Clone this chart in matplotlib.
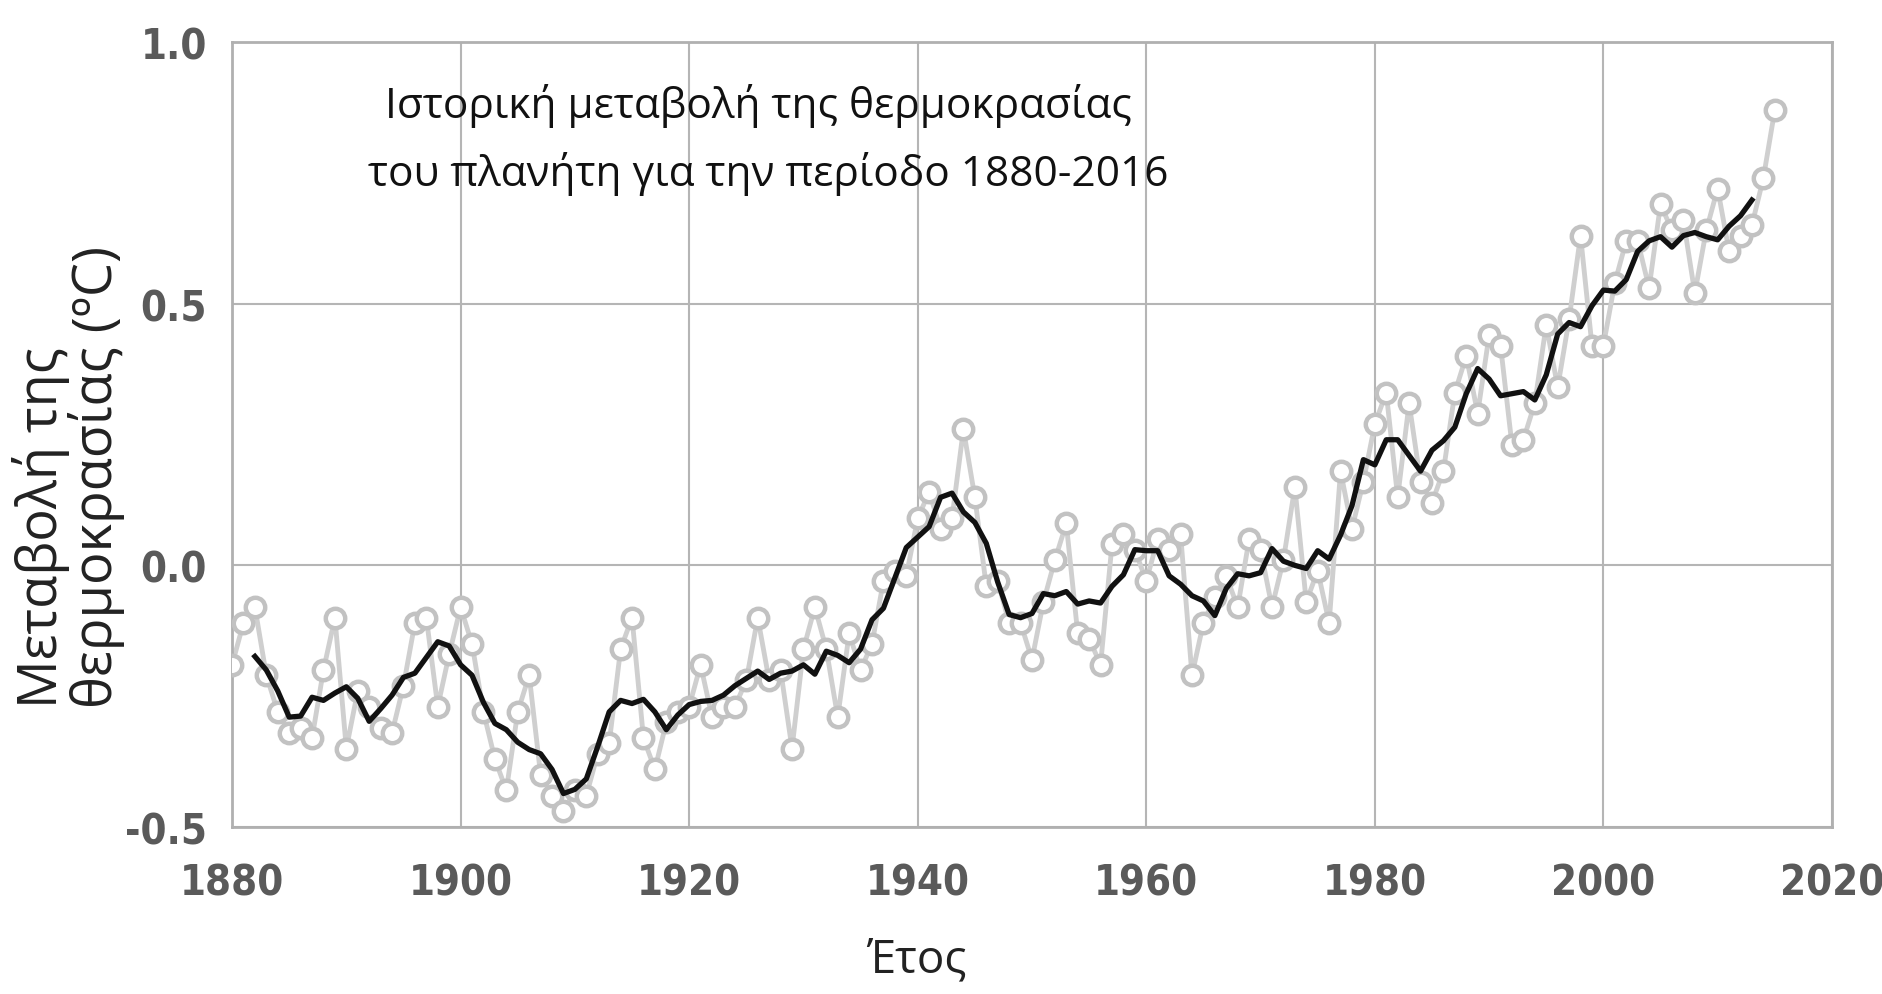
import numpy as np
import matplotlib
matplotlib.use("Agg")
import matplotlib.pyplot as plt
from matplotlib import font_manager

# annual temperature anomaly (ºC)
years = list(range(1880, 2016))
anomaly = [
    -0.19, -0.11, -0.08, -0.21, -0.28, -0.32, -0.31, -0.33, -0.20, -0.10,  # 1880s
    -0.35, -0.24, -0.27, -0.31, -0.32, -0.23, -0.11, -0.10, -0.27, -0.17,  # 1890s
    -0.08, -0.15, -0.28, -0.37, -0.43, -0.28, -0.21, -0.40, -0.44, -0.47,  # 1900s
    -0.43, -0.44, -0.36, -0.34, -0.16, -0.10, -0.33, -0.39, -0.30, -0.28,  # 1910s
    -0.27, -0.19, -0.29, -0.27, -0.27, -0.22, -0.10, -0.22, -0.20, -0.35,  # 1920s
    -0.16, -0.08, -0.16, -0.29, -0.13, -0.20, -0.15, -0.03, -0.01, -0.02,  # 1930s
    0.09, 0.14, 0.07, 0.09, 0.26, 0.13, -0.04, -0.03, -0.11, -0.11,        # 1940s
    -0.18, -0.07, 0.01, 0.08, -0.13, -0.14, -0.19, 0.04, 0.06, 0.03,       # 1950s
    -0.03, 0.05, 0.03, 0.06, -0.21, -0.11, -0.06, -0.02, -0.08, 0.05,      # 1960s
    0.03, -0.08, 0.01, 0.15, -0.07, -0.01, -0.11, 0.18, 0.07, 0.16,        # 1970s
    0.27, 0.33, 0.13, 0.31, 0.16, 0.12, 0.18, 0.33, 0.40, 0.29,           # 1980s
    0.44, 0.42, 0.23, 0.24, 0.31, 0.46, 0.34, 0.47, 0.63, 0.42,           # 1990s
    0.42, 0.54, 0.62, 0.62, 0.53, 0.69, 0.64, 0.66, 0.52, 0.64,           # 2000s
    0.72, 0.60, 0.63, 0.65, 0.74, 0.87,                                   # 2010s
]

xticks = [1880, 1900, 1920, 1940, 1960, 1980, 2000, 2020]
yticks = [-0.5, 0.0, 0.5, 1.0]

title1 = "Ιστορική μεταβολή της θερμοκρασίας"
title2 = "του πλανήτη για την περίοδο 1880-2016"
ylab = "Μεταβολή της\nθερμοκρασίας (ºC)"
xlab = "Έτος"

# 5 year running mean (centred)
yrs = np.array(years)
an = np.array(anomaly)
smooth = np.convolve(an, np.ones(5) / 5, mode="valid")
smooth_yrs = yrs[2:-2]

# narrow font for the tick numbers if there is one
fonts = font_manager.fontManager.ttflist
names = {f.name for f in fonts}
tick_kw = dict(family=["Liberation Sans", "DejaVu Sans"], size=28, weight="bold", stretch="normal")
if "Liberation Sans Narrow" in names:
    tick_kw = dict(family=["Liberation Sans Narrow"], size=33, weight="bold", stretch="condensed")
elif any(f.name == "DejaVu Sans" and f.stretch == "condensed" for f in fonts):
    tick_kw = dict(family=["DejaVu Sans"], size=30, weight="bold", stretch="condensed")

fig = plt.figure(figsize=(18.82, 9.95), dpi=100)
ax = fig.add_axes([0.1233, 0.1678, 0.8501, 0.789])

ax.plot(yrs, an, "-", color="#cfcfcf", lw=3.5, zorder=2)
ax.plot(yrs, an, "o", mfc="white", mec="#c2c2c2", mew=3.2, ms=14, zorder=3)
ax.plot(smooth_yrs, smooth, "-", color="#111111", lw=3.8, zorder=4)

ax.set_xlim(1880, 2020)
ax.set_ylim(-0.5, 1.0)
ax.set_xticks(xticks)
ax.set_yticks(yticks)
ax.set_yticklabels([f"{v:.1f}" for v in yticks])
ax.grid(True, color="#b5b5b5", lw=1.5, zorder=0)
for s in ax.spines.values():
    s.set_color("#b0b0b0")
    s.set_linewidth(2)

ax.tick_params(length=0, colors="#5a5a5a")
ax.tick_params(axis="x", pad=25)
ax.tick_params(axis="y", pad=18)
for lab in ax.get_xticklabels() + ax.get_yticklabels():
    lab.set_family(tick_kw["family"])
    lab.set_fontsize(tick_kw["size"])
    lab.set_fontweight(tick_kw["weight"])
    lab.set_fontstretch(tick_kw["stretch"])

txtfont = ["Open Sans", "DejaVu Sans"]
fig.text(0.403, 0.8935, title1, ha="center", va="center", fontsize=30.5, family=txtfont, color="#111111")
fig.text(0.408, 0.825, title2, ha="center", va="center", fontsize=30.5, family=txtfont, color="#111111")
fig.text(0.0362, 0.2884, ylab, rotation=90, ha="center", va="bottom", multialignment="left",
         fontsize=39, family=txtfont, color="#222222", linespacing=0.95)
fig.text(0.487, 0.035, xlab, ha="center", va="center", fontsize=33, family=txtfont, color="#222222")

fig.savefig("out.png", dpi=100)
